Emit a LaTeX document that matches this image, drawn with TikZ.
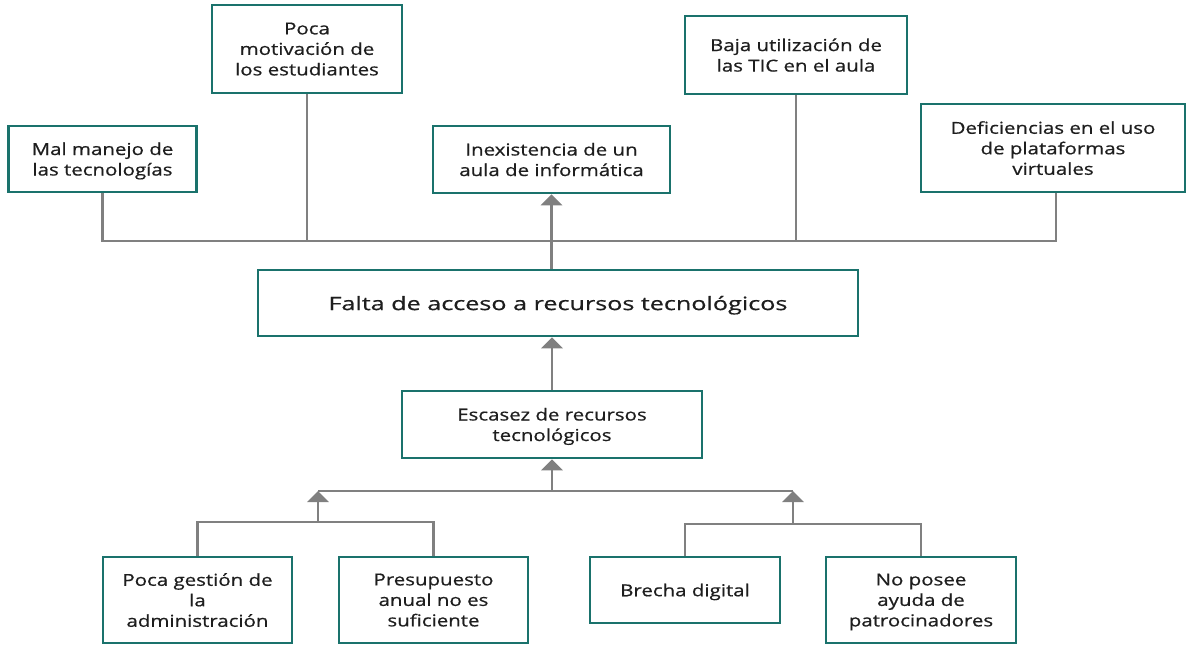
\documentclass[tikz,border=0pt]{standalone}
\usepackage{fontspec}
\setmainfont{Open Sans}
\newfontfamily\boxfont[FakeStretch=1.24,FakeBold=0.6]{Open Sans}
\newfontfamily\bigfont[FakeStretch=1.36,FakeBold=0.6]{Open Sans}
\usetikzlibrary{arrows.meta}
\definecolor{boxteal}{RGB}{26,114,108}
\definecolor{linegray}{RGB}{128,128,128}
\definecolor{txt}{RGB}{30,30,30}
\begin{document}
\begin{tikzpicture}[x=1pt,y=-1pt,
  box/.style={draw=boxteal,line width=2.6pt,fill=white,align=center,text=txt,
    font=\boxfont\fontsize{16.5}{20.5}\selectfont,inner sep=2pt,text depth=-2pt},
  conn/.style={draw=linegray,line width=2.8pt},
  arr/.style={conn,-{Triangle[width=21pt,length=11pt]}}]
\useasboundingbox (0,0) rectangle (1187,646);
% top effects
\node[box,minimum width=188pt,minimum height=66pt] (mal) at (102.5,159) {Mal manejo de\\las tecnologías};
\node[box,minimum width=190pt,minimum height=88pt] (poca) at (307,49) {Poca\\motivación de\\los estudiantes};
\node[box,minimum width=237pt,minimum height=67pt] (inex) at (551.5,159.5) {Inexistencia de un\\aula de informática};
\node[box,minimum width=222pt,minimum height=78pt] (baja) at (796,55) {Baja utilización de\\las TIC en el aula};
\node[box,minimum width=264pt,minimum height=88pt] (def) at (1053,148) {Deficiencias en el uso\\de plataformas\\virtuales};
% central problem
\node[box,minimum width=600pt,minimum height=66pt,font=\bigfont\fontsize{18.5}{23}\selectfont] (falta) at (558,303) {Falta de acceso a recursos tecnológicos};
\node[box,minimum width=300pt,minimum height=67pt] (esc) at (552,424.5) {Escasez de recursos\\tecnológicos};
% causes
\node[box,minimum width=189pt,minimum height=86pt] (pg) at (197.5,600) {Poca gestión de\\la\\administración};
\node[box,minimum width=189pt,minimum height=86pt] (pr) at (433.5,600) {Presupuesto\\anual no es\\suficiente};
\node[box,minimum width=190pt,minimum height=66pt] (br) at (685,590) {Brecha digital};
\node[box,minimum width=190pt,minimum height=86pt] (np) at (921,600) {No posee\\ayuda de\\patrocinadores};
% top bus
\coordinate (tbL) at (102.5,241);
\coordinate (tbR) at (1056,241);
\draw[conn] (mal.south) -- (tbL) -- (tbR) -- (tbR |- def.south);
\draw[conn] (poca.south) -- (poca.south |- tbL);
\draw[conn] (baja.south) -- (baja.south |- tbL);
\draw[arr] (falta.north -| inex.south) -- (inex.south);
% middle arrows
\draw[arr] (esc.north) -- (esc.north |- falta.south);
\coordinate (bbL) at (318,491);
\coordinate (bbR) at (793,491);
\draw[conn] (bbL) -- (bbR);
\draw[arr] (esc.south |- bbL) -- (esc.south);
% bottom left group
\coordinate (slm) at (318,522);
\draw[conn] (pg.north) -- (pg.north |- slm) -- (pr.north |- slm) -- (pr.north);
\draw[arr] (slm) -- (bbL);
% bottom right group
\coordinate (srm) at (793,524);
\draw[conn] (br.north) -- (br.north |- srm) -- (np.north |- srm) -- (np.north);
\draw[arr] (srm) -- (bbR);
\end{tikzpicture}
\end{document}
